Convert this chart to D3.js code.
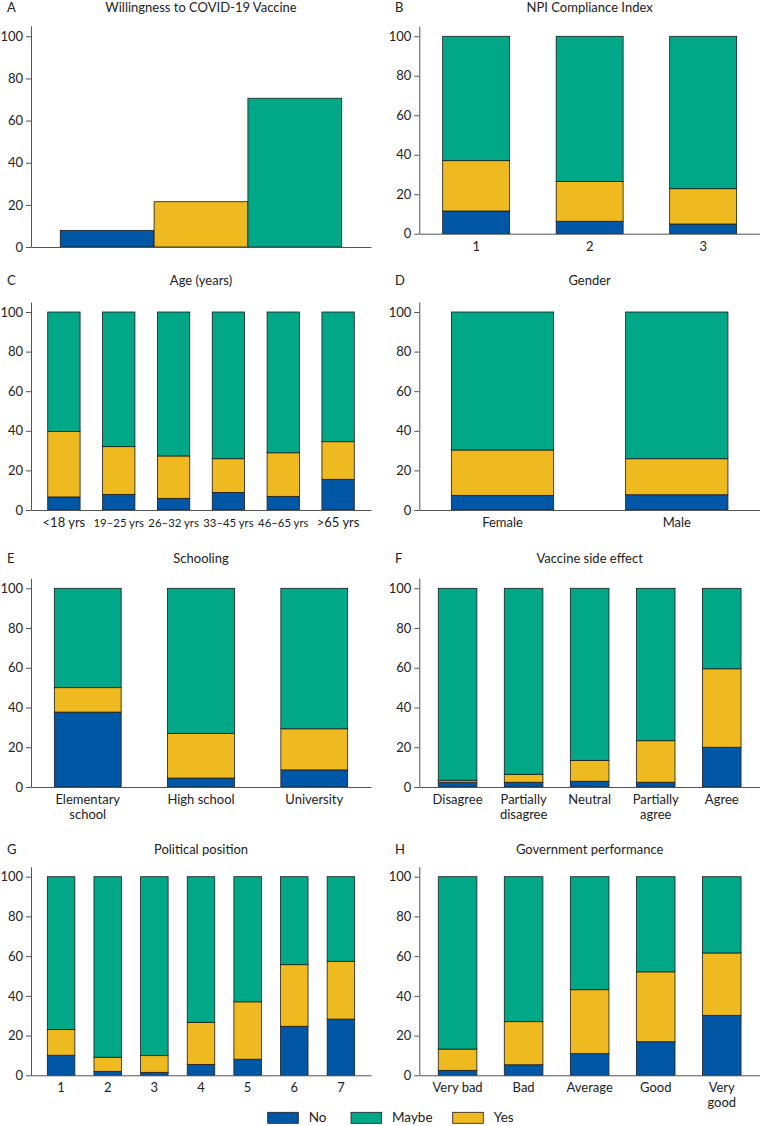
<!DOCTYPE html>
<html><head><meta charset="utf-8">
<script src="https://cdn.jsdelivr.net/npm/d3@7"></script>
<style>body{margin:0;background:#fff} svg{display:block} text{font-family:Lato,"Open Sans",sans-serif;fill:#222}</style>
</head><body><svg id="c" width="760" height="1126"></svg>
<script>
// ---- data ----
const seriesNames = ["No", "Maybe", "Yes"];
const stackOrder = ["No", "Yes", "Maybe"];
const seriesColors = ["#0057a6", "#00a887", "#efb920"];
const yTicks = [0, 20, 40, 60, 80, 100];

const willCategories = ["No", "Yes", "Maybe"];
const willValues = [7.9, 21.5, 70.6];

const npiCategories = ["1", "2", "3"];
const npiNo = [11.5, 6.3, 4.9];
const npiYes = [25.5, 20.2, 17.9];
const npiMaybe = [63.0, 73.5, 77.2];

const ageCategories = ["<18 yrs", "19–25 yrs", "26–32 yrs", "33–45 yrs", "46–65 yrs", ">65 yrs"];
const ageNo = [6.6, 7.9, 5.9, 8.9, 6.9, 15.5];
const ageYes = [33.1, 24.1, 21.4, 17.0, 22.0, 19.0];
const ageMaybe = [60.3, 68.0, 72.7, 74.1, 71.1, 65.5];

const genderCategories = ["Female", "Male"];
const genderNo = [7.4, 7.7];
const genderYes = [22.9, 18.2];
const genderMaybe = [69.7, 74.1];

const schoolCategories = ["Elementary\nschool", "High school", "University"];
const schoolNo = [37.7, 4.5, 8.6];
const schoolYes = [12.3, 22.5, 20.7];
const schoolMaybe = [50.0, 73.0, 70.7];

const sideCategories = ["Disagree", "Partially\ndisagree", "Neutral", "Partially\nagree", "Agree"];
const sideNo = [2.4, 2.4, 2.9, 2.4, 20.0];
const sideYes = [1.0, 4.0, 10.5, 20.9, 39.5];
const sideMaybe = [96.6, 93.6, 86.6, 76.7, 40.5];

const politicalCategories = ["1", "2", "3", "4", "5", "6", "7"];
const politicalNo = [10.1, 2.0, 1.5, 5.5, 8.1, 24.7, 28.3];
const politicalYes = [12.9, 7.1, 8.4, 21.2, 28.9, 31.0, 29.1];
const politicalMaybe = [77.0, 90.9, 90.1, 73.3, 63.0, 44.3, 42.6];

const govCategories = ["Very bad", "Bad", "Average", "Good", "Very\ngood"];
const govNo = [2.5, 5.3, 10.9, 16.9, 30.2];
const govYes = [10.7, 21.7, 32.2, 35.2, 31.4];
const govMaybe = [86.8, 73.0, 56.9, 47.9, 38.4];

// ---- drawing ----
const svg = d3.select("#c");
const color = d3.scaleOrdinal(seriesNames, seriesColors);
const FONT = "Lato,'Open Sans',sans-serif";

function rows(cats, no, yes, maybe) {
  return cats.map((c, i) => ({cat: c, No: no[i], Yes: yes[i], Maybe: maybe[i]}));
}

const L = [31, 371], R = [419.3, 760];

const panels = [
  {letter: "A", title: "Willingness to COVID-19 Vaccine", xr: L, y0: 247, y100: 36.3, titleY: 12, po: 0.312, pi: 0, simple: true},
  {letter: "B", title: "NPI Compliance Index", xr: R, y0: 233.7, y100: 36.3, titleY: 12, po: 0.206, pi: 0.41,
    data: rows(npiCategories, npiNo, npiYes, npiMaybe)},
  {letter: "C", title: "Age (years)", xr: L, y0: 510, y100: 312, titleY: 285, po: 0.305, pi: 0.41,
    data: rows(ageCategories, ageNo, ageYes, ageMaybe)},
  {letter: "D", title: "Gender", xr: R, y0: 510, y100: 312, titleY: 285, po: 0.184, pi: 0.413,
    data: rows(genderCategories, genderNo, genderYes, genderMaybe)},
  {letter: "E", title: "Schooling", xr: L, y0: 787, y100: 588.3, titleY: 563, po: 0.206, pi: 0.41,
    data: rows(schoolCategories, schoolNo, schoolYes, schoolMaybe)},
  {letter: "F", title: "Vaccine side effect", xr: R, y0: 787, y100: 588.3, titleY: 563, po: 0.287, pi: 0.415,
    data: rows(sideCategories, sideNo, sideYes, sideMaybe)},
  {letter: "G", title: "Political position", xr: L, y0: 1075.3, y100: 876.7, titleY: 854, po: 0.35, pi: 0.41,
    data: rows(politicalCategories, politicalNo, politicalYes, politicalMaybe)},
  {letter: "H", title: "Government performance", xr: R, y0: 1075.3, y100: 876.7, titleY: 854, po: 0.287, pi: 0.415,
    data: rows(govCategories, govNo, govYes, govMaybe)}
];

panels.forEach(p => {
  const g = svg.append("g");
  const unit = (p.y0 - p.y100) / 100;
  const y = d3.scaleLinear().domain([0, 105]).range([p.y0, p.y0 - 105 * unit]);
  const cats = p.simple ? willCategories : p.data.map(d => d.cat);
  const x = d3.scaleBand().domain(cats).range(p.xr).paddingInner(p.pi).paddingOuter(p.po);

  // title + letter
  g.append("text").attr("x", (p.xr[0] + p.xr[1]) / 2).attr("y", p.titleY)
    .attr("text-anchor", "middle").attr("font-size", 13).text(p.title);
  g.append("text").attr("x", p.xr[0] === L[0] ? 7 : 395).attr("y", p.titleY)
    .attr("font-size", 13).text(p.letter);

  // bars
  if (p.simple) {
    g.selectAll("rect.bar").data(willCategories.map((c, i) => ({cat: c, v: willValues[i]})))
      .join("rect")
      .attr("x", d => x(d.cat)).attr("width", x.bandwidth())
      .attr("y", d => y(d.v)).attr("height", d => y(0) - y(d.v))
      .attr("fill", d => color(d.cat)).attr("stroke", "#1c1c1c").attr("stroke-width", 0.8);
  } else {
    const stacked = d3.stack().keys(stackOrder)(p.data);
    g.selectAll("g.s").data(stacked).join("g")
      .attr("fill", s => color(s.key))
      .selectAll("rect").data(s => s).join("rect")
      .attr("x", d => x(d.data.cat)).attr("width", x.bandwidth())
      .attr("y", d => y(d[1])).attr("height", d => y(d[0]) - y(d[1]))
      .attr("stroke", "#1c1c1c").attr("stroke-width", 0.8);
  }

  // y axis
  const ya = g.append("g").attr("transform", `translate(${p.xr[0]},0)`)
    .call(d3.axisLeft(y).tickValues(yTicks).tickSize(5).tickSizeOuter(0).tickPadding(3));
  ya.selectAll("text").attr("font-size", 13).attr("font-family", FONT).attr("fill", "#222");

  // x axis
  const xa = g.append("g").attr("transform", `translate(0,${p.y0})`)
    .call(d3.axisBottom(x).tickSize(0).tickSizeOuter(0).tickPadding(0).tickFormat(p.simple ? () => "" : d => d));
  const maxW = Math.max(x.step() - 4, 30);
  xa.selectAll("text").each(function(d) {
    const t = d3.select(this);
    t.text(null).attr("dy", null).attr("y", 17).attr("font-size", 13)
      .attr("font-family", FONT).attr("fill", "#222");
    if (p.simple) return;
    d.split("\n").forEach((line, i) => {
      t.append("tspan").attr("x", 0).attr("y", 17 + i * 15).text(line);
    });
    const w = this.getBBox().width;
    if (w > maxW) t.attr("font-size", 13 * maxW / w);
  });
  [ya, xa].forEach(a => {
    a.select(".domain").attr("stroke", "#555");
    a.selectAll(".tick line").attr("stroke", "#555");
  });
});

// legend
const legendX = [267.7, 351, 452.7];
const lg = svg.append("g");
seriesNames.forEach((s, i) => {
  lg.append("rect").attr("x", legendX[i]).attr("y", 1112.3).attr("width", 30.6).attr("height", 11)
    .attr("fill", color(s)).attr("stroke", "#1c1c1c").attr("stroke-width", 0.8);
  lg.append("text").attr("x", legendX[i] + 41).attr("y", 1122).attr("font-size", 13.5).text(s);
});
</script>
</body></html>
